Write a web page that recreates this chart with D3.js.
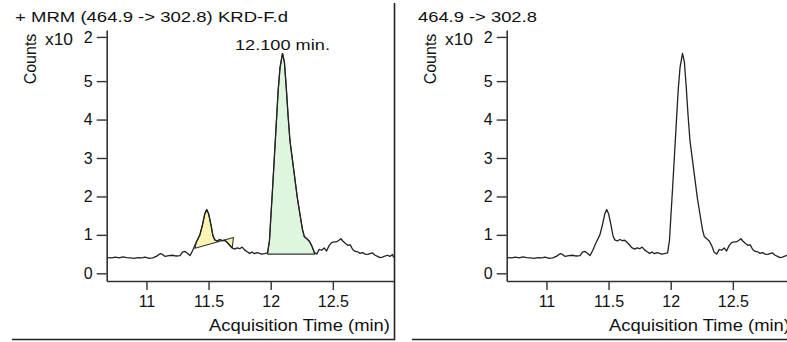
<!DOCTYPE html>
<html>
<head>
<meta charset="utf-8">
<script src="https://cdn.jsdelivr.net/npm/d3@7"></script>
<style>
  body { margin: 0; background: #fff; }
  svg { display: block; font-family: "Liberation Sans", Arial, sans-serif; }
</style>
</head>
<body>
<svg id="chart" width="787" height="342"></svg>
<script>
// acquisition time (min) and counts (x10^2)
const times = [10.69, 10.72, 10.75, 10.78, 10.81, 10.84, 10.87, 10.90, 10.93, 10.96,
  10.99, 11.02, 11.05, 11.08, 11.11, 11.13, 11.15, 11.18, 11.21, 11.24,
  11.27, 11.29, 11.31, 11.33, 11.35, 11.37, 11.40, 11.43, 11.45, 11.47,
  11.485, 11.50, 11.52, 11.535, 11.55, 11.57, 11.59, 11.61, 11.63, 11.65,
  11.67, 11.69, 11.71, 11.73, 11.75, 11.77, 11.79, 11.81, 11.83, 11.85,
  11.87, 11.89, 11.91, 11.93, 11.95, 11.975, 11.99, 12.00, 12.015, 12.03,
  12.045, 12.06, 12.075, 12.095, 12.11, 12.125, 12.14, 12.155, 12.175, 12.195,
  12.215, 12.235, 12.255, 12.27, 12.29, 12.31, 12.33, 12.35, 12.37, 12.39,
  12.41, 12.43, 12.45, 12.47, 12.49, 12.51, 12.53, 12.55, 12.565, 12.58,
  12.60, 12.62, 12.64, 12.66, 12.68, 12.70, 12.72, 12.74, 12.76, 12.78,
  12.80, 12.82, 12.84, 12.86, 12.88, 12.90, 12.92, 12.94, 12.96, 12.98, 12.99];
const counts = [0.41, 0.40, 0.42, 0.40, 0.43, 0.41, 0.40, 0.39, 0.41, 0.40,
  0.42, 0.39, 0.40, 0.44, 0.51, 0.49, 0.44, 0.46, 0.47, 0.45,
  0.46, 0.55, 0.57, 0.52, 0.46, 0.58, 0.80, 1.00, 1.25, 1.55,
  1.66, 1.55, 1.25, 0.98, 0.87, 0.84, 0.88, 0.85, 0.86, 0.80,
  0.73, 0.66, 0.63, 0.66, 0.64, 0.68, 0.61, 0.56, 0.52, 0.55,
  0.51, 0.54, 0.52, 0.50, 0.51, 0.53, 0.85, 1.40, 2.20, 3.05,
  3.90, 4.75, 5.35, 5.72, 5.50, 4.85, 4.10, 3.45, 2.95, 2.45,
  1.95, 1.55, 1.15, 0.96, 0.90, 0.84, 0.72, 0.55, 0.50, 0.62,
  0.60, 0.66, 0.58, 0.72, 0.80, 0.82, 0.82, 0.86, 0.90, 0.84,
  0.78, 0.73, 0.74, 0.62, 0.57, 0.56, 0.52, 0.54, 0.50, 0.49,
  0.51, 0.53, 0.47, 0.44, 0.41, 0.42, 0.45, 0.47, 0.44, 0.49, 0.41];

// integrated peaks (left panel only)
const peakStart = [11.39, 11.975];
const peakEnd = [11.70, 12.355];
const baseStart = [0.65, 0.50];
const baseEnd = [0.93, 0.50];
const peakColors = ["#fbf4b2", "#ddf6dd"];
const peakLabel = "12.100 min.";
const peakLabelTime = 12.095;

const xTicks = [11, 11.5, 12, 12.5];
const yTicks = [0, 1, 2, 3, 4, 5, 6.15];
const yTickLabels = ["0", "1", "2", "3", "4", "5", "2"];

const titles = ["+ MRM (464.9 -> 302.8) KRD-F.d", "464.9 -> 302.8"];
const titleWidths = [273, 119];

const data = times.map((t, i) => ({ t: t, v: counts[i] }));

const svg = d3.select("#chart");
svg.append("rect").attr("width", 787).attr("height", 342).attr("fill", "#fff");

const x = d3.scaleLinear().domain([10.68, 12.99]).range([106.7, 393.7]);
const y = d3.scaleLinear().domain([-0.2, 6.33]).range([281, 30]);

const line = d3.line().x(d => x(d.t)).y(d => y(d.v));

// stretch a text horizontally so it covers the given width
const fitText = (g, str, x0, y0, size, width, anchor) => {
    const t = g.append("text")
               .attr("font-size", size)
               .attr("fill", "#111")
               .text(str);
    const w = t.node().getComputedTextLength();
    const sx = width / w;
    let left = x0;
    if (anchor === "middle") left = x0 - width / 2;
    if (anchor === "end") left = x0 - width;
    t.attr("transform", `translate(${left},${y0}) scale(${sx},1)`);
    return t;
};

const drawPanel = (g, idx) => {
    // frame (right + bottom)
    g.append("path")
     .attr("d", "M12,339.5H394.5V3")
     .attr("fill", "none")
     .attr("stroke", "#222")
     .attr("stroke-width", 1.6);

    fitText(g, titles[idx], idx === 0 ? 15 : 18, 22.3, 15, titleWidths[idx], "start");

    g.append("text")
     .attr("transform", "translate(36,59) rotate(-90)")
     .attr("text-anchor", "middle")
     .attr("font-size", 16)
     .attr("fill", "#111")
     .text("Counts");

    fitText(g, "x10", 45, 45, 16, 28, "start");

    if (idx === 0) {
        peakStart.forEach((s, i) => {
            const inside = data.filter(d => d.t >= s && d.t <= peakEnd[i]);
            const poly = [{ t: s, v: baseStart[i] }].concat(inside)
                .concat([{ t: peakEnd[i], v: baseEnd[i] }]);
            g.append("path")
             .attr("d", line(poly) + "Z")
             .attr("fill", peakColors[i])
             .attr("stroke", "#333")
             .attr("stroke-width", 1.1)
             .attr("stroke-linejoin", "round");
        });
        fitText(g, peakLabel, x(peakLabelTime), 50, 15, 95, "middle");
    }

    g.append("path")
     .attr("d", line(data))
     .attr("fill", "none")
     .attr("stroke", "#222")
     .attr("stroke-width", 1.3)
     .attr("stroke-linejoin", "round");

    const yAxis = d3.axisLeft(y)
                    .tickValues(yTicks)
                    .tickFormat((d, i) => yTickLabels[i])
                    .tickSize(10)
                    .tickPadding(4)
                    .tickSizeOuter(0);
    const yg = g.append("g")
                .attr("transform", "translate(106.7,0)")
                .call(yAxis);

    const xAxis = d3.axisBottom(x)
                    .tickValues(xTicks)
                    .tickFormat(d3.format("~g"))
                    .tickSize(9)
                    .tickPadding(6)
                    .tickSizeOuter(0);
    const xg = g.append("g")
                .attr("transform", "translate(0,281)")
                .call(xAxis);

    [yg, xg].forEach(a => {
        a.select(".domain").attr("stroke", "#333").attr("stroke-width", 1.6);
        a.selectAll(".tick line").attr("stroke", "#333").attr("stroke-width", 1.4);
        a.selectAll(".tick text")
         .attr("font-size", 16)
         .attr("font-family", "Liberation Sans, Arial, sans-serif")
         .attr("fill", "#111");
    });

    fitText(g, "Acquisition Time (min)", 390, 330.7, 16, 181, "end");
};

[0, 1].forEach(i => {
    const g = svg.append("g").attr("transform", `translate(${i * 400},0)`);
    drawPanel(g, i);
});
</script>
</body>
</html>
